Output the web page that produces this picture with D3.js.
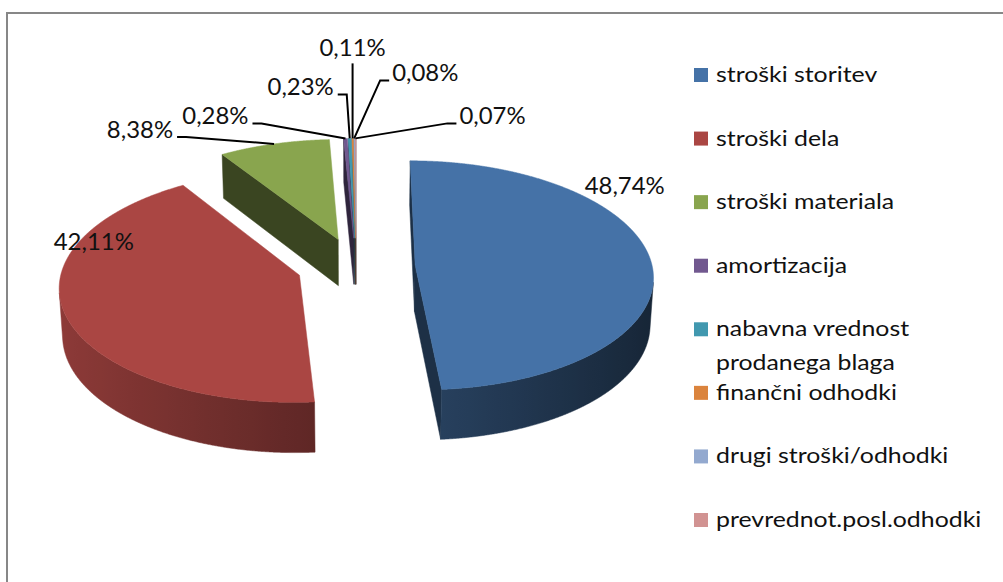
<!DOCTYPE html>
<html><head><meta charset="utf-8">
<script src="https://cdn.jsdelivr.net/npm/d3@7"></script>
<style>html,body{margin:0;padding:0;background:#fff;} svg{display:block;}</style>
</head><body>
<svg id="chart" width="1003" height="582"></svg>
<script>
// ---------------- data ----------------
const categories = ["stroški storitev","stroški dela","stroški materiala","amortizacija",
  "nabavna vrednost prodanega blaga","finančni odhodki","drugi stroški/odhodki","prevrednot.posl.odhodki"];
const values = [48.74, 42.11, 8.38, 0.28, 0.23, 0.11, 0.08, 0.07];
const valueLabels = ["48,74%","42,11%","8,38%","0,28%","0,23%","0,11%","0,08%","0,07%"];
const colors = ["#4572A7","#AA4643","#89A54E","#71588F","#4198AF","#DB843D","#93A9CF","#D19392"];

// ---------------- layout ----------------
const W = 1003, H = 582;
const pieCx = 356, pieCy = 266;       // top-face centre on screen
const radiusPx = 237;                 // horizontal radius at centre depth
const elev = Math.asin(0.48);         // viewing elevation
const camDist = 9.6;                  // perspective distance (in radii)
const thickness = 0.228;              // pie height (in radii)
const explode = 0.25;                 // explosion (in radii)
const focal = radiusPx * camDist;

// label layout: [dx, dy] from slice rim anchor; mode
const labelLayout = [
  {dx:-66, dy:-66, mode:"free"},
  {dx:-11, dy:-63, mode:"free"},
  {dx:-97, dy:-7,  mode:"left"},
  {dx:-93, dy:-15, mode:"left"},
  {dx:-12, dy:-44, mode:"left"},
  {dx:0,   dy:-75, mode:"up"},
  {dx:35,  dy:-58, mode:"right"},
  {dx:101, dy:-15, mode:"right"}
];

const svg = d3.select("#chart");
svg.append("rect").attr("width", W).attr("height", H).attr("fill", "#fff");
// chart border (clipped by the picture on right/bottom)
svg.append("rect").attr("x", 7).attr("y", 13).attr("width", 1100).attr("height", 700)
  .attr("fill", "none").attr("stroke", "#878787").attr("stroke-width", 2);

const defs = svg.append("defs");

function proj(X, Y, Z) {
  const yc = Y * Math.cos(elev) - Z * Math.sin(elev);
  const depth = camDist - Y * Math.sin(elev) - Z * Math.cos(elev);
  return [pieCx + focal * X / depth, pieCy - focal * yc / depth, depth];
}
const cam = [0, camDist * Math.sin(elev), camDist * Math.cos(elev)];

function shade(col, k) {
  const c = d3.rgb(col);
  return d3.rgb(c.r * k, c.g * k, c.b * k).formatHex();
}

const pie = d3.pie().sort(null).startAngle(0).endAngle(2 * Math.PI);
const arcs = pie(values);

const slices = arcs.map((a, i) => {
  const mid = (a.startAngle + a.endAngle) / 2;
  const ox = explode * Math.sin(mid), oz = -explode * Math.cos(mid);
  return {i, a0: a.startAngle, a1: a.endAngle, mid, ox, oz,
          depth: proj(ox, 0, oz)[2]};
});

const pieG = svg.append("g");
const line = d3.line();

function rim(s, ang, Y) {
  return proj(s.ox + Math.sin(ang), Y, s.oz - Math.cos(ang));
}

slices.slice().sort((p, q) => q.depth - p.depth).forEach(s => {
  const g = pieG.append("g");
  const base = colors[s.i];
  const n = Math.max(8, Math.ceil((s.a1 - s.a0) / 0.004));
  const angs = d3.range(n + 1).map(k => s.a0 + (s.a1 - s.a0) * k / n);
  const apexT = proj(s.ox, 0, s.oz), apexB = proj(s.ox, -thickness, s.oz);

  // radial faces
  [[s.a0, s.a0 - Math.PI / 2], [s.a1, s.a1 + Math.PI / 2]].forEach(([ang, nAng]) => {
    const nx = Math.sin(nAng), nz = -Math.cos(nAng);
    const vis = nx * (cam[0] - s.ox) + nz * (cam[2] - s.oz);
    if (vis > 0) {
      const pts = [apexT, rim(s, ang, 0), rim(s, ang, -thickness), apexB].map(p => [p[0], p[1]]);
      g.append("path").attr("d", line(pts) + "Z").attr("fill", shade(base, 0.42))
        .attr("stroke", shade(base, 0.42)).attr("stroke-width", 0.5);
    }
  });

  // outer curved side
  const visible = angs.map(ang => {
    const px = s.ox + Math.sin(ang), pz = s.oz - Math.cos(ang);
    return Math.sin(ang) * (cam[0] - px) + (-Math.cos(ang)) * (cam[2] - pz) > 0;
  });
  let runs = [], cur = [];
  angs.forEach((ang, k) => {
    if (visible[k]) cur.push(ang); else if (cur.length) { runs.push(cur); cur = []; }
  });
  if (cur.length) runs.push(cur);
  runs.forEach((run, r) => {
    if (run.length < 2) return;
    const top = run.map(ang => rim(s, ang, 0));
    const bot = run.map(ang => rim(s, ang, -thickness)).reverse();
    const xs = top.map(p => p[0]);
    const x1 = d3.min(xs), x2 = d3.max(xs);
    const gid = "side" + s.i + "_" + r;
    const grad = defs.append("linearGradient").attr("id", gid)
      .attr("gradientUnits", "userSpaceOnUse").attr("x1", x1).attr("x2", x2).attr("y1", 0).attr("y2", 0);
    const step = Math.max(1, Math.floor(run.length / 24));
    const stops = [];
    run.forEach((ang, k) => {
      if (k % step && k !== run.length - 1) return;
      const nx = Math.sin(ang);
      const kf = 0.58 - 0.26 * nx;
      stops.push({o: x2 > x1 ? (top[k][0] - x1) / (x2 - x1) : 0, c: shade(base, kf)});
    });
    stops.sort((p, q) => p.o - q.o).forEach(st =>
      grad.append("stop").attr("offset", st.o).attr("stop-color", st.c));
    const pts = top.concat(bot).map(p => [p[0], p[1]]);
    g.append("path").attr("d", line(pts) + "Z").attr("fill", `url(#${gid})`)
      .attr("stroke", `url(#${gid})`).attr("stroke-width", 0.5);
  });

  // top face
  const topPts = [[apexT[0], apexT[1]]].concat(angs.map(ang => {
    const p = rim(s, ang, 0); return [p[0], p[1]];
  }));
  g.append("path").attr("d", line(topPts) + "Z").attr("fill", base)
    .attr("stroke", base).attr("stroke-width", 0.5);
});

// ---------------- labels ----------------
const font = "Lato, 'Open Sans', sans-serif";
const labG = svg.append("g").attr("font-family", font).attr("font-size", 23).attr("fill", "#111");
function stretch(sel, x0, k) {
  sel.attr("transform", `translate(${x0},0) scale(${k},1) translate(${-x0},0)`);
}
slices.forEach(s => {
  const anchor = rim(s, s.mid, 0);
  const L = labelLayout[s.i];
  const ax = anchor[0], ay = anchor[1];
  const tx = ax + L.dx, ty = ay + L.dy;
  if (L.mode === "free") {
    const t = labG.append("text").attr("x", tx).attr("y", ty).text(valueLabels[s.i]);
    stretch(t, tx, 1.04);
    return;
  }
  let pts, textX, textY, anchorT;
  if (L.mode === "left") {
    pts = [[ax, ay], [tx + 9, ty], [tx, ty]];
    textX = tx - 4; textY = ty + 1; anchorT = "end";
  } else if (L.mode === "right") {
    pts = [[ax, ay], [tx - 9, ty], [tx, ty]];
    textX = tx + 3; textY = ty + 1; anchorT = "start";
  } else {
    pts = [[ax, ay], [tx, ty]];
    textX = tx; textY = ty - 7; anchorT = "middle";
  }
  svg.append("path").attr("d", line(pts)).attr("fill", "none")
    .attr("stroke", "#000").attr("stroke-width", 2);
  const t = labG.append("text").attr("x", textX).attr("y", textY).attr("text-anchor", anchorT)
    .text(valueLabels[s.i]);
  stretch(t, textX, 1.04);
});

// ---------------- legend ----------------
const legY = d3.scaleLinear().domain([0, categories.length - 1]).range([75, 520]);
const legX = 694, legTextX = 716, legStretch = 1.13, legMaxW = 243, legLineH = 34;
const legG = svg.append("g").attr("font-family", font).attr("font-size", 22).attr("fill", "#111");
categories.forEach((c, i) => {
  const y = legY(i);
  legG.append("rect").attr("x", legX).attr("y", y - 7).attr("width", 14).attr("height", 14)
    .attr("fill", colors[i]);
  const t = legG.append("text").attr("x", legTextX).attr("y", y + 7);
  stretch(t, legTextX, legStretch);
  // greedy word wrap
  const words = c.split(" ");
  let lineWords = [];
  let tspan = t.append("tspan").attr("x", legTextX).attr("dy", 0);
  words.forEach(w => {
    lineWords.push(w);
    tspan.text(lineWords.join(" "));
    if (tspan.node().getComputedTextLength() > legMaxW && lineWords.length > 1) {
      lineWords.pop();
      tspan.text(lineWords.join(" "));
      lineWords = [w];
      tspan = t.append("tspan").attr("x", legTextX).attr("dy", legLineH).text(w);
    }
  });
});
</script>
</body></html>
